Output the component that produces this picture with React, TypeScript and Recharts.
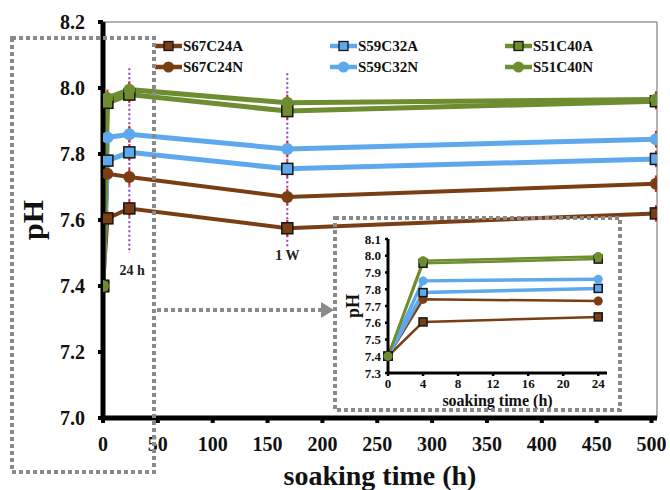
import React from 'react';
import { LineChart, Line, XAxis, YAxis, ReferenceLine, ReferenceDot, ErrorBar } from 'recharts';

// ---- data ----
const times = [0, 4, 24, 168, 504];
const insetTimes = [0, 4, 24];
const s67c24a = [7.40, 7.605, 7.635, 7.575, 7.62];
const s67c24n = [7.40, 7.74, 7.73, 7.67, 7.71];
const s59c32a = [7.40, 7.78, 7.805, 7.755, 7.785];
const s59c32n = [7.40, 7.85, 7.86, 7.815, 7.845];
const s51c40a = [7.40, 7.955, 7.98, 7.93, 7.96];
const s51c40n = [7.40, 7.97, 7.995, 7.955, 7.965];
const phError = [0.02, 0.025, 0.025, 0.025, 0.025];
const xTicks = [0, 50, 100, 150, 200, 250, 300, 350, 400, 450, 500];
const yTicks = [7.0, 7.2, 7.4, 7.6, 7.8, 8.0, 8.2];
const insetXTicks = [0, 4, 8, 12, 16, 20, 24];
const insetYTicks = [7.3, 7.4, 7.5, 7.6, 7.7, 7.8, 7.9, 8.0, 8.1];

const BROWN = '#7A3E14';
const BLUE = '#5EA8EE';
const GREEN = '#6D8D30';
const FONT = '"Liberation Serif", "Times New Roman", serif';
const GRAY = '#8a8a8a';

const series = [
  { name: 'S67C24A', values: s67c24a, color: BROWN, shape: 'square', width: 4, col: 0, row: 0 },
  { name: 'S67C24N', values: s67c24n, color: BROWN, shape: 'circle', width: 4, col: 0, row: 1 },
  { name: 'S59C32A', values: s59c32a, color: BLUE, shape: 'square', width: 5, col: 1, row: 0 },
  { name: 'S59C32N', values: s59c32n, color: BLUE, shape: 'circle', width: 5, col: 1, row: 1 },
  { name: 'S51C40A', values: s51c40a, color: GREEN, shape: 'square', width: 5, col: 2, row: 0 },
  { name: 'S51C40N', values: s51c40n, color: GREEN, shape: 'circle', width: 5, col: 2, row: 1 },
];

const mainRows = times.map((t, i) => {
  const row: any = { t, err: phError[i] };
  series.forEach((s) => { row[s.name] = s.values[i]; });
  return row;
});
const insetRows = insetTimes.map((t, i) => {
  const row: any = { t, err: phError[i] };
  series.forEach((s) => { row[s.name] = s.values[i]; });
  return row;
});

function makeDot(color: string, shape: string, size: number) {
  return (props: any) => {
    const { cx, cy, index } = props;
    if (cx == null || cy == null) return <g key={`e${index}`} />;
    if (shape === 'square') {
      return (
        <rect key={`s${index}`} x={cx - size / 2} y={cy - size / 2} width={size} height={size}
          fill={color} stroke="#151515" strokeWidth={1.5} />
      );
    }
    return <circle key={`c${index}`} cx={cx} cy={cy} r={size / 2} fill={color} />;
  };
}

const tickStyleMain = { fill: '#111', fontSize: 20, fontWeight: 'bold', fontFamily: FONT };
const tickStyleInset = { fill: '#111', fontSize: 13, fontWeight: 'bold', fontFamily: FONT };

function Overlay() {
  const colX = [155, 330, 505];
  const rowY = [46, 67];
  return (
    <svg width={670} height={490} style={{ position: 'absolute', left: 0, top: 0, pointerEvents: 'none' }}>
      {series.map((s) => {
        const x0 = colX[s.col];
        const y = rowY[s.row];
        return (
          <g key={s.name}>
            <line x1={x0} y1={y} x2={x0 + 27} y2={y} stroke={s.color} strokeWidth={4.5} />
            {s.shape === 'square'
              ? <rect x={x0 + 9} y={y - 4.5} width={9} height={9} fill={s.color} stroke="#151515" strokeWidth={1.3} />
              : <circle cx={x0 + 13.5} cy={y} r={5.5} fill={s.color} />}
            <text x={x0 + 28} y={y} dominantBaseline="central" fontFamily={FONT} fontWeight="bold" fontSize={15} fill="#111">{s.name}</text>
          </g>
        );
      })}
      <rect x={12} y={38} width={142} height={434} fill="none" stroke={GRAY} strokeWidth={4} strokeDasharray="4 3" />
      <rect x={335} y={218} width={285} height={192} fill="none" stroke={GRAY} strokeWidth={4} strokeDasharray="4 3" />
      <line x1={157} y1={310} x2={324} y2={310} stroke={GRAY} strokeWidth={4} strokeDasharray="4 3" />
      <polygon points="321,302 334,310 321,318" fill={GRAY} />
    </svg>
  );
}

export default function App() {
  return (
    <div style={{ position: 'absolute', left: 0, top: 0, width: 670, height: 490, background: '#fff' }}>
      <div style={{ position: 'absolute', left: 0, top: 0 }}>
        <LineChart width={670} height={490} data={mainRows} margin={{ top: 22, right: 13, bottom: 22, left: 0 }}>
          <XAxis dataKey="t" type="number" domain={[0, 505]} ticks={xTicks} interval={0} height={50}
            allowDataOverflow
            axisLine={{ stroke: '#000', strokeWidth: 5 }} tickLine={{ stroke: '#000', strokeWidth: 4 }}
            tickSize={5} tickMargin={14} tick={tickStyleMain}
            label={(p: any) => {
              const vb = p.viewBox;
              return <text x={vb.x + vb.width / 2} y={vb.y + 57} textAnchor="middle" dominantBaseline="central"
                fontFamily={FONT} fontWeight="bold" fontSize={28} fill="#111">soaking time (h)</text>;
            }} />
          <YAxis type="number" domain={[7.0, 8.2]} ticks={yTicks} interval={0} width={103}
            allowDataOverflow
            tickFormatter={(v: number) => v.toFixed(1)}
            axisLine={{ stroke: '#000', strokeWidth: 5 }} tickLine={{ stroke: '#000', strokeWidth: 4 }}
            tickSize={5} tickMargin={13} tick={tickStyleMain}
            label={(p: any) => {
              const vb = p.viewBox;
              const cx = vb.x + 32;
              const cy = vb.y + vb.height / 2;
              return <text x={cx} y={cy} transform={`rotate(-90 ${cx} ${cy})`} textAnchor="middle" dominantBaseline="central"
                fontFamily={FONT} fontWeight="bold" fontSize={30} fill="#111">pH</text>;
            }} />
          <ReferenceLine y={8.2} stroke="#999" strokeWidth={1.5} />
          <ReferenceLine x={505} stroke="#999" strokeWidth={1.5} />
          <ReferenceLine segment={[{ x: 24, y: 8.06 }, { x: 24, y: 7.5 }]} stroke="#8844CC" strokeWidth={2} strokeDasharray="2 2.5" />
          <ReferenceLine segment={[{ x: 168, y: 8.045 }, { x: 168, y: 7.52 }]} stroke="#8844CC" strokeWidth={2} strokeDasharray="2 2.5" />
          <ReferenceDot x={26.5} y={7.448} r={1} fill="none" stroke="none"
            label={{ value: '24 h', position: 'center', fill: '#222', fontSize: 14, fontWeight: 'bold', fontFamily: FONT }} />
          <ReferenceDot x={168} y={7.494} r={1} fill="none" stroke="none"
            label={{ value: '1 W', position: 'center', fill: '#222', fontSize: 14, fontWeight: 'bold', fontFamily: FONT }} />
          {series.map((s) => (
            <Line key={s.name} dataKey={s.name} stroke={s.color} strokeWidth={s.width} isAnimationActive={false}
              activeDot={false} dot={makeDot(s.color, s.shape, s.shape === 'square' ? 11 : 12)}>
              <ErrorBar dataKey="err" direction="y" width={0} stroke="#e02020" strokeWidth={2} />
            </Line>
          ))}
        </LineChart>
      </div>
      <div style={{ position: 'absolute', left: 335, top: 218 }}>
        <LineChart width={285} height={192} data={insetRows} margin={{ top: 21, right: 13, bottom: 0, left: 0 }}>
          <XAxis dataKey="t" type="number" domain={[0, 25]} ticks={insetXTicks} interval={0} height={37}
            axisLine={{ stroke: '#000', strokeWidth: 3 }} tickLine={{ stroke: '#000', strokeWidth: 2.5 }}
            tickSize={3} tickMargin={3} tick={tickStyleInset}
            label={(p: any) => {
              const vb = p.viewBox;
              return <text x={vb.x + vb.width / 2} y={vb.y + 27} textAnchor="middle" dominantBaseline="central"
                fontFamily={FONT} fontWeight="bold" fontSize={16} fill="#111">soaking time (h)</text>;
            }} />
          <YAxis type="number" domain={[7.3, 8.1]} ticks={insetYTicks} interval={0} width={53}
            tickFormatter={(v: number) => v.toFixed(1)}
            axisLine={{ stroke: '#000', strokeWidth: 3 }} tickLine={{ stroke: '#000', strokeWidth: 2.5 }}
            tickSize={3} tickMargin={4} tick={tickStyleInset}
            label={(p: any) => {
              const vb = p.viewBox;
              const cx = vb.x + 18;
              const cy = vb.y + vb.height / 2;
              return <text x={cx} y={cy} transform={`rotate(-90 ${cx} ${cy})`} textAnchor="middle" dominantBaseline="central"
                fontFamily={FONT} fontWeight="bold" fontSize={18} fill="#111">pH</text>;
            }} />
          {series.map((s) => (
            <Line key={s.name} dataKey={s.name} stroke={s.color} strokeWidth={s.color === BLUE ? 3.5 : 2.5} isAnimationActive={false}
              activeDot={false} dot={makeDot(s.color, s.shape, s.shape === 'square' ? 8 : 9)}>
              <ErrorBar dataKey="err" direction="y" width={0} stroke="#e02020" strokeWidth={1.5} />
            </Line>
          ))}
        </LineChart>
      </div>
      <Overlay />
    </div>
  );
}
